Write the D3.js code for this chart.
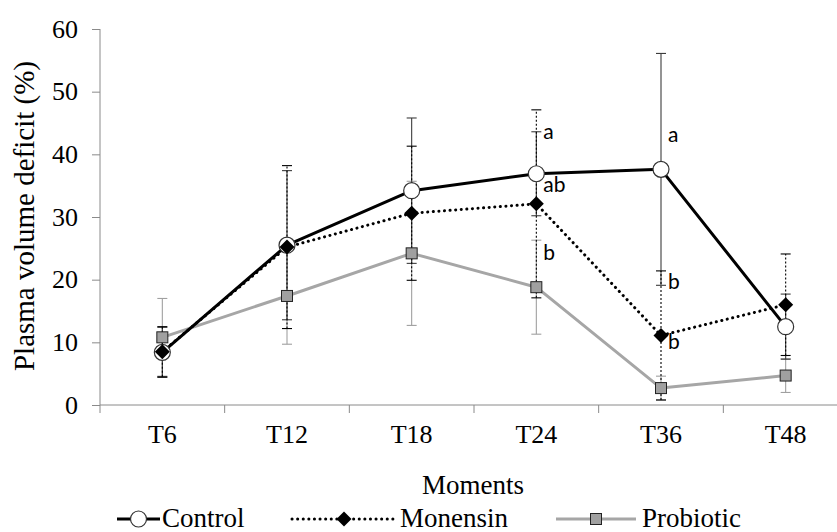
<!DOCTYPE html>
<html>
<head>
<meta charset="utf-8">
<script src="https://cdn.jsdelivr.net/npm/d3@7/dist/d3.min.js"></script>
<style>
  html, body { margin: 0; padding: 0; background: #fff; }
  svg { display: block; }
</style>
</head>
<body>
<svg id="chart" width="837" height="532"></svg>
<script>
// ---- data ----
const categories = ["T6", "T12", "T18", "T24", "T36", "T48"];
const controlMean   = [8.4, 25.5, 34.2, 36.9, 37.6, 12.5];
const controlSD     = [4.0, 11.9, 11.6, 6.7, 18.5, 5.2];
const monensinMean  = [8.5, 25.2, 30.6, 32.1, 11.1, 16.0];
const monensinSD    = [4.0, 13.0, 10.7, 15.0, 10.3, 8.1];
const probioticMean = [10.8, 17.4, 24.2, 18.8, 2.7, 4.7];
const probioticSD   = [6.2, 7.7, 11.5, 7.5, 1.9, 2.7];
const yTicks = [0, 10, 20, 30, 40, 50, 60];
const annotLetters = ["a", "ab", "b", "a", "b", "b"];
const annotCats    = ["T24", "T24", "T24", "T36", "T36", "T36"];
const annotValues  = [43.6, 35.1, 24.3, 43.1, 19.6, 10.1];

// ---- layout ----
const svg = d3.select("#chart");
const x = d3.scaleBand().domain(categories).range([100, 848]).padding(0);
const y = d3.scaleLinear().domain([0, 60]).range([405, 29]);
const cx = c => x(c) + x.bandwidth() / 2;
const axisColor = "#8a8a8a";
const serif = "'Liberation Serif', 'Times New Roman', serif";

// y axis
const yAxis = svg.append("g").attr("transform", "translate(100,0)")
  .call(d3.axisLeft(y).tickValues(yTicks).tickSize(8).tickPadding(14));
yAxis.select(".domain").attr("stroke", axisColor).attr("d", "M0,29V405");
yAxis.selectAll(".tick line").attr("stroke", axisColor);
yAxis.selectAll(".tick text").attr("fill", "#000")
  .style("font-family", serif).style("font-size", "26px");

// x axis
const xAxis = svg.append("g").attr("transform", "translate(0,405)")
  .call(d3.axisBottom(x).tickSize(0).tickPadding(20));
xAxis.select(".domain").attr("stroke", axisColor).attr("d", "M100,0H848");
xAxis.selectAll(".tick text").attr("fill", "#000")
  .style("font-family", serif).style("font-size", "26px");
// category boundary ticks
const bounds = categories.map(c => x(c)).concat([x.range()[1]]);
svg.append("g").selectAll("line").data(bounds).join("line")
  .attr("x1", d => d).attr("x2", d => d)
  .attr("y1", 405).attr("y2", 413)
  .attr("stroke", axisColor);

// axis titles
svg.append("text")
  .attr("transform", `translate(34,216) rotate(-90)`)
  .attr("text-anchor", "middle")
  .style("font-family", serif).style("font-size", "29px")
  .text("Plasma volume deficit (%)");
svg.append("text")
  .attr("x", 473).attr("y", 494)
  .attr("text-anchor", "middle")
  .style("font-family", serif).style("font-size", "27px")
  .text("Moments");

// ---- series ----
const series = [
  { name: "Probiotic", mean: probioticMean, sd: probioticSD,
    line: "#a6a6a6", dash: null, err: "#a0a0a0", errDash: null, marker: "square" },
  { name: "Control", mean: controlMean, sd: controlSD,
    line: "#000", dash: null, err: "#3c3c3c", errDash: null, marker: "circle" },
  { name: "Monensin", mean: monensinMean, sd: monensinSD,
    line: "#000", dash: "0.1,5.5", err: "#000", errDash: "2,2", marker: "diamond" }
];

const cap = 5;
series.forEach(s => {
  const g = svg.append("g");
  categories.forEach((c, i) => {
    const xc = cx(c);
    const lo = Math.max(0, s.mean[i] - s.sd[i]), hi = s.mean[i] + s.sd[i];
    g.append("line").attr("x1", xc).attr("x2", xc)
      .attr("y1", y(lo)).attr("y2", y(hi))
      .attr("stroke", s.err).attr("stroke-width", 1.1)
      .attr("stroke-dasharray", s.errDash);
    [lo, hi].forEach(v => {
      g.append("line").attr("x1", xc - cap).attr("x2", xc + cap)
        .attr("y1", y(v)).attr("y2", y(v))
        .attr("stroke", s.err).attr("stroke-width", 1.1);
    });
  });
});

const lineGen = d3.line().x((d, i) => cx(categories[i])).y(d => y(d));
series.forEach(s => {
  svg.append("path").datum(s.mean)
    .attr("d", lineGen)
    .attr("fill", "none")
    .attr("stroke", s.line)
    .attr("stroke-width", 3)
    .attr("stroke-linecap", s.dash ? "round" : "butt")
    .attr("stroke-linejoin", "round")
    .attr("stroke-dasharray", s.dash);
});

function drawMarker(g, type, px, py) {
  if (type === "circle") {
    g.append("circle").attr("cx", px).attr("cy", py).attr("r", 8)
      .attr("fill", "#fff").attr("stroke", "#333").attr("stroke-width", 1.2);
  } else if (type === "diamond") {
    g.append("path")
      .attr("d", `M${px},${py - 7.5}L${px + 7.5},${py}L${px},${py + 7.5}L${px - 7.5},${py}Z`)
      .attr("fill", "#000");
  } else {
    g.append("rect").attr("x", px - 5.5).attr("y", py - 5.5)
      .attr("width", 11).attr("height", 11)
      .attr("fill", "#a0a0a0").attr("stroke", "#222").attr("stroke-width", 1);
  }
}

series.forEach(s => {
  const g = svg.append("g");
  s.mean.forEach((v, i) => drawMarker(g, s.marker, cx(categories[i]), y(v)));
});

// ---- significance letters ----
svg.append("g").selectAll("text").data(annotLetters).join("text")
  .attr("x", (d, i) => cx(annotCats[i]) + 7)
  .attr("y", (d, i) => y(annotValues[i]) + 7)
  .style("font-family", "Lato, 'Open Sans', sans-serif")
  .style("font-size", "21px")
  .attr("fill", "#000")
  .text(d => d);

// ---- legend ----
const legendY = 519;
const legendItems = [
  { s: series[1], x0: 117, x1: 160, tx: 162 },
  { s: series[2], x0: 292, x1: 396, tx: 400 },
  { s: series[0], x0: 556, x1: 636, tx: 642 }
];
const lg = svg.append("g");
legendItems.forEach(it => {
  lg.append("line").attr("x1", it.x0).attr("x2", it.x1)
    .attr("y1", legendY).attr("y2", legendY)
    .attr("stroke", it.s.line).attr("stroke-width", 3)
    .attr("stroke-linecap", it.s.dash ? "round" : "butt")
    .attr("stroke-dasharray", it.s.dash);
  drawMarker(lg, it.s.marker, (it.x0 + it.x1) / 2, legendY);
  lg.append("text").attr("x", it.tx).attr("y", legendY + 8)
    .style("font-family", serif).style("font-size", "27px")
    .text(it.s.name);
});
</script>
</body>
</html>
